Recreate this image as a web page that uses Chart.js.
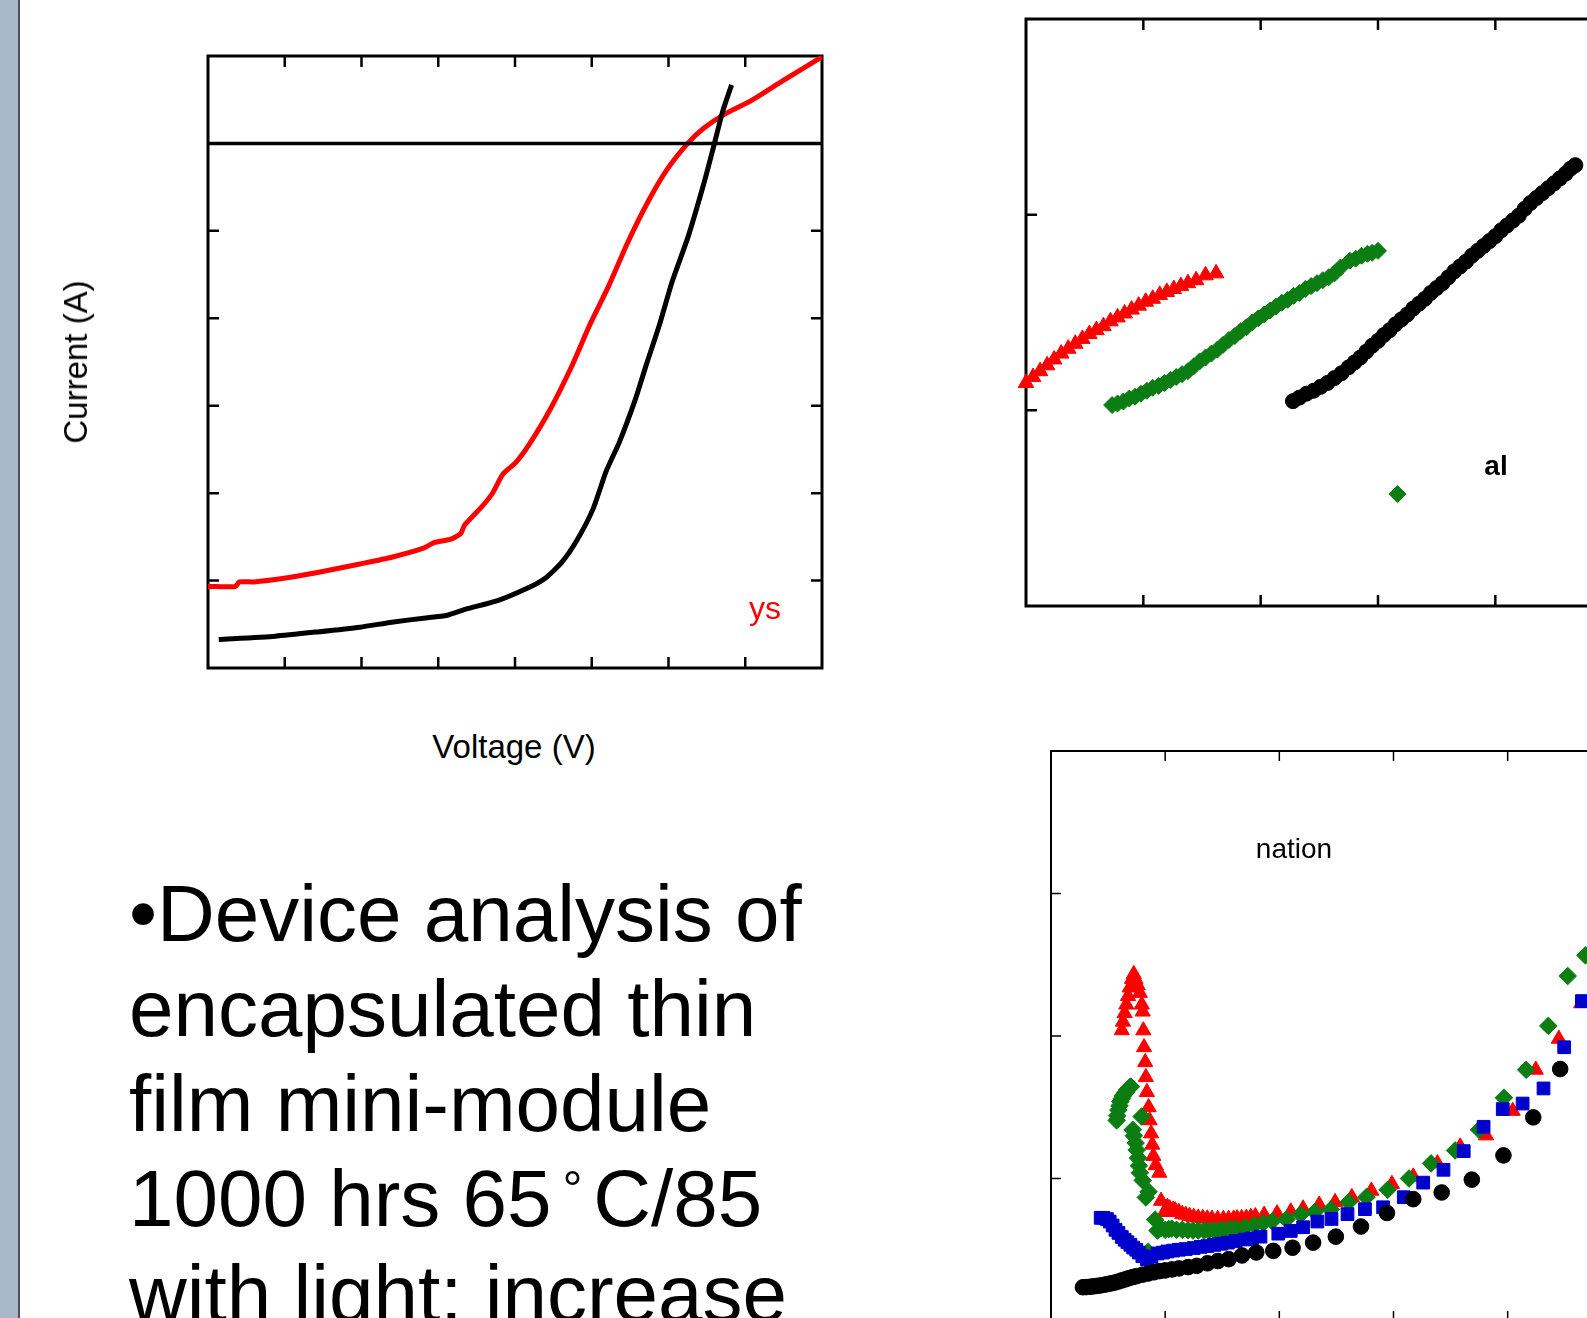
<!DOCTYPE html>
<html>
<head>
<meta charset="utf-8">
<script src="https://cdn.jsdelivr.net/npm/chart.js@4.4.1/dist/chart.umd.min.js"></script>
<style>
  html, body { margin: 0; padding: 0; background: #fff; }
  body { width: 1587px; height: 1318px; overflow: hidden; position: relative; font-family: "Liberation Sans", Arial, sans-serif; }
  .sidebar { position: absolute; left: 0; top: 0; width: 18px; height: 1318px; background: #a9b9ca; border-right: 2px solid #4b5058; }
  .box { position: absolute; }
  .lbl { position: absolute; white-space: nowrap; color: #000; }
  .bullet { position: absolute; left: 129px; top: 866px; font-size: 80px; line-height: 95px; white-space: nowrap; }
  .deg { font-size: 50px; line-height: 0; vertical-align: 20px; word-spacing: -3px; }
</style>
</head>
<body>
<div class="sidebar"></div>

<div class="box" style="left:0;top:0;width:900px;height:720px;"><canvas id="ivChart" width="900" height="720"></canvas></div>
<div class="box" style="left:950px;top:0;width:850px;height:660px;"><canvas id="trendChart" width="850" height="660"></canvas></div>
<div class="box" style="left:1000px;top:700px;width:800px;height:700px;"><canvas id="degChart" width="800" height="700"></canvas></div>

<div class="lbl" style="left:76px;top:362px;font-size:33px;transform:translate(-50%,-50%) rotate(-90deg);">Current (A)</div>
<div class="lbl" style="left:514px;top:747px;font-size:33px;transform:translate(-50%,-50%);">Voltage (V)</div>
<div class="lbl" style="left:765px;top:608px;font-size:32px;color:#ff0000;transform:translate(-50%,-50%);">ys</div>
<div class="lbl" style="left:1496px;top:466px;font-size:28px;font-weight:bold;transform:translate(-50%,-50%);">al</div>
<div class="lbl" style="left:1294px;top:849px;font-size:28px;transform:translate(-50%,-50%);">nation</div>

<div class="bullet">•Device analysis of<br>encapsulated thin<br>film mini-module<br>1000 hrs 65<span class="deg"> ° </span>C/85<br>with light: increase</div>

<script>
// chart 1: I-V curves (dark = black, light = red)
const darkV = [0.14, 0.876, 1.429, 1.98, 2.394, 2.808, 3.118, 3.36, 3.773, 4.187, 4.394, 4.6, 4.807, 5.016, 5.188, 5.36, 5.567, 5.705, 5.877, 6.05, 6.256, 6.462, 6.6, 6.705, 6.822];
const darkI = [-5.674, -5.636, -5.587, -5.533, -5.476, -5.43, -5.396, -5.327, -5.229, -5.076, -4.973, -4.801, -4.538, -4.183, -3.749, -3.416, -2.931, -2.547, -2.089, -1.574, -1.066, -0.453, 0.005, 0.364, 0.67];
const lightV = [0, 0.358, 0.407, 0.6, 0.945, 1.429, 1.98, 2.394, 2.808, 2.946, 3.152, 3.291, 3.346, 3.566, 3.704, 3.842, 4.015, 4.187, 4.463, 4.739, 4.98, 5.221, 5.463, 5.738, 5.98, 6.256, 6.462, 6.738, 7.083, 7.497, 8.0];
const lightI = [-5.067, -5.067, -5.015, -5.015, -4.98, -4.908, -4.81, -4.733, -4.63, -4.566, -4.53, -4.464, -4.362, -4.157, -4.004, -3.783, -3.645, -3.44, -3.034, -2.548, -2.064, -1.629, -1.144, -0.659, -0.3, 0.006, 0.176, 0.339, 0.492, 0.721, 0.99];
const zeroV = [0, 8];
const zeroI = [0, 0];

// chart 2: three scatter groups
const triX = [0.00, 0.06, 0.12, 0.18, 0.24, 0.30, 0.36, 0.42, 0.48, 0.54, 0.60, 0.66, 0.72, 0.78, 0.84, 0.90, 0.96, 1.02, 1.08, 1.14, 1.20, 1.26, 1.32, 1.38, 1.45, 1.53, 1.62];
const triY = [1.14, 1.17, 1.20, 1.23, 1.26, 1.29, 1.315, 1.34, 1.365, 1.39, 1.41, 1.43, 1.455, 1.475, 1.495, 1.515, 1.535, 1.555, 1.57, 1.59, 1.605, 1.62, 1.635, 1.65, 1.665, 1.69, 1.70];
const dmdX = [0.734, 0.78, 0.83, 0.88, 0.93, 0.98, 1.03, 1.08, 1.13, 1.18, 1.23, 1.28, 1.33, 1.38, 1.43, 1.48, 1.53, 1.58, 1.63, 1.68, 1.73, 1.78, 1.83, 1.88, 1.93, 1.98, 2.03, 2.08, 2.13, 2.18, 2.23, 2.28, 2.33, 2.38, 2.43, 2.48, 2.53, 2.58, 2.63, 2.68, 2.76, 2.81, 2.86, 2.91, 2.95, 3.0, 3.166];
const dmdY = [1.027, 1.035, 1.045, 1.06, 1.07, 1.085, 1.10, 1.115, 1.125, 1.14, 1.155, 1.17, 1.185, 1.20, 1.225, 1.25, 1.27, 1.29, 1.31, 1.335, 1.36, 1.38, 1.405, 1.425, 1.45, 1.47, 1.49, 1.51, 1.53, 1.55, 1.565, 1.585, 1.60, 1.62, 1.635, 1.65, 1.665, 1.68, 1.70, 1.73, 1.765, 1.775, 1.79, 1.80, 1.805, 1.815, 0.572];
const cirX = [2.275, 2.33, 2.39, 2.45, 2.51, 2.57, 2.63, 2.69, 2.75, 2.80, 2.85, 2.90, 2.95, 3.00, 3.05, 3.10, 3.15, 3.20, 3.25, 3.30, 3.35, 3.40, 3.45, 3.50, 3.55, 3.60, 3.65, 3.70, 3.75, 3.80, 3.85, 3.90, 3.95, 4.00, 4.05, 4.10, 4.15, 4.20, 4.25, 4.30, 4.35, 4.40, 4.45, 4.50, 4.55, 4.60, 4.64, 4.682];
const cirY = [1.047, 1.065, 1.085, 1.10, 1.12, 1.14, 1.165, 1.19, 1.22, 1.245, 1.27, 1.30, 1.33, 1.355, 1.385, 1.41, 1.44, 1.465, 1.49, 1.52, 1.545, 1.57, 1.60, 1.625, 1.65, 1.68, 1.71, 1.735, 1.76, 1.79, 1.815, 1.84, 1.865, 1.89, 1.92, 1.945, 1.97, 1.995, 2.03, 2.06, 2.085, 2.11, 2.135, 2.16, 2.185, 2.21, 2.235, 2.253];

// chart 3: four scatter groups
const blackX = [0.28, 0.31, 0.34, 0.37, 0.40, 0.435, 0.47, 0.50, 0.53, 0.56, 0.59, 0.62, 0.65, 0.68, 0.716, 0.75, 0.80, 0.85, 0.902, 0.95, 1.0, 1.06, 1.12, 1.2, 1.276, 1.37, 1.462, 1.556, 1.673, 1.798, 1.947, 2.116, 2.296, 2.495, 2.715, 2.943, 3.173, 3.422, 3.686, 3.963, 4.224, 4.46];
const blackY = [0.237, 0.238, 0.24, 0.243, 0.246, 0.25, 0.255, 0.26, 0.265, 0.27, 0.277, 0.285, 0.292, 0.30, 0.308, 0.315, 0.325, 0.333, 0.342, 0.35, 0.355, 0.362, 0.369, 0.378, 0.387, 0.405, 0.421, 0.434, 0.46, 0.481, 0.492, 0.514, 0.55, 0.592, 0.663, 0.758, 0.855, 0.902, 0.992, 1.162, 1.429, 1.768];
const blueX = [0.435, 0.46, 0.49, 0.514, 0.54, 0.565, 0.591, 0.62, 0.645, 0.669, 0.695, 0.72, 0.747, 0.77, 0.80, 0.84, 0.88, 0.933, 0.98, 1.02, 1.07, 1.12, 1.18, 1.25, 1.31, 1.369, 1.43, 1.49, 1.55, 1.617, 1.70, 1.76, 1.835, 1.991, 2.1, 2.208, 2.333, 2.457, 2.597, 2.75, 2.909, 3.09, 3.26, 3.438, 3.615, 3.789, 3.957, 4.131, 4.314, 4.495, 4.65];
const blueY = [0.724, 0.724, 0.715, 0.698, 0.67, 0.64, 0.618, 0.59, 0.57, 0.553, 0.535, 0.515, 0.5, 0.48, 0.455, 0.434, 0.45, 0.474, 0.48, 0.488, 0.494, 0.5, 0.505, 0.512, 0.52, 0.526, 0.534, 0.542, 0.55, 0.561, 0.572, 0.58, 0.592, 0.613, 0.632, 0.658, 0.698, 0.716, 0.75, 0.785, 0.798, 0.869, 0.971, 1.061, 1.192, 1.363, 1.487, 1.526, 1.632, 1.921, 2.245];
const redX = [0.62, 0.63, 0.645, 0.66, 0.675, 0.69, 0.71, 0.725, 0.74, 0.76, 0.778, 0.795, 0.803, 0.809, 0.815, 0.825, 0.831, 0.84, 0.855, 0.864, 0.877, 0.887, 0.896, 0.918, 0.949, 0.964, 0.995, 1.02, 1.04, 1.07, 1.088, 1.12, 1.15, 1.18, 1.213, 1.25, 1.29, 1.33, 1.369, 1.41, 1.46, 1.51, 1.556, 1.60, 1.63, 1.67, 1.711, 1.75, 1.79, 1.867, 1.98, 2.1, 2.208, 2.349, 2.488, 2.635, 2.806, 2.986, 3.173, 3.385, 3.584, 3.811, 4.044, 4.246, 4.448, 4.644];
const redY = [2.04, 2.10, 2.16, 2.22, 2.28, 2.34, 2.40, 2.434, 2.40, 2.355, 2.302, 2.22, 2.171, 2.039, 1.921, 1.816, 1.711, 1.606, 1.5, 1.408, 1.316, 1.237, 1.158, 1.093, 1.04, 0.843, 0.764, 0.80, 0.79, 0.78, 0.776, 0.765, 0.75, 0.745, 0.737, 0.73, 0.725, 0.722, 0.719, 0.717, 0.716, 0.716, 0.716, 0.718, 0.72, 0.722, 0.724, 0.73, 0.735, 0.745, 0.755, 0.768, 0.789, 0.816, 0.834, 0.869, 0.914, 0.961, 1.013, 1.106, 1.224, 1.302, 1.474, 1.763, 1.98, 2.229];
const greenX = [0.575, 0.58, 0.59, 0.60, 0.607, 0.62, 0.63, 0.64, 0.653, 0.665, 0.68, 0.69, 0.7, 0.794, 0.716, 0.725, 0.741, 0.75, 0.762, 0.77, 0.778, 0.803, 0.831, 0.855, 0.851, 0.913, 0.933, 0.96, 1.0, 1.03, 1.058, 1.1, 1.15, 1.2, 1.244, 1.29, 1.34, 1.38, 1.431, 1.48, 1.52, 1.57, 1.617, 1.70, 1.782, 1.86, 1.938, 2.062, 2.187, 2.311, 2.451, 2.606, 2.762, 2.949, 3.136, 3.329, 3.54, 3.749, 3.967, 4.162, 4.356, 4.526, 4.681];
const greenY = [1.408, 1.44, 1.48, 1.51, 1.54, 1.56, 1.58, 1.59, 1.604, 1.62, 1.63, 1.64, 1.645, 1.435, 1.342, 1.30, 1.249, 1.20, 1.144, 1.09, 1.04, 0.987, 0.867, 0.907, 0.486, 0.711, 0.635, 0.65, 0.64, 0.645, 0.648, 0.64, 0.64, 0.637, 0.635, 0.635, 0.635, 0.635, 0.635, 0.637, 0.64, 0.645, 0.648, 0.66, 0.674, 0.688, 0.7, 0.713, 0.747, 0.766, 0.782, 0.834, 0.869, 0.921, 1.0, 1.106, 1.197, 1.342, 1.567, 1.763, 2.071, 2.421, 2.566];

const pts = (xs, ys) => xs.map((x, i) => ({ x: x, y: ys[i] }));

// frame box plus inward tick marks on all four sides
const frameTicks = {
    id: 'frameTicks',
    beforeDatasetsDraw(chart, args, opts) {
        const ctx = chart.ctx;
        const a = chart.chartArea;
        const x = chart.scales.x;
        const y = chart.scales.y;
        ctx.save();
        ctx.strokeStyle = '#000';
        ctx.lineWidth = opts.tickWidth;
        x.ticks.forEach(t => {
            const px = x.getPixelForValue(t.value);
            if (px <= a.left + 2 || px >= a.right - 2) return;
            ctx.beginPath();
            ctx.moveTo(px, a.bottom); ctx.lineTo(px, a.bottom - opts.len);
            ctx.moveTo(px, a.top); ctx.lineTo(px, a.top + opts.len);
            ctx.stroke();
        });
        y.ticks.forEach(t => {
            const py = y.getPixelForValue(t.value);
            if (py <= a.top + 2 || py >= a.bottom - 2) return;
            ctx.beginPath();
            ctx.moveTo(a.left, py); ctx.lineTo(a.left + opts.len, py);
            ctx.moveTo(a.right, py); ctx.lineTo(a.right - opts.len, py);
            ctx.stroke();
        });
        ctx.lineWidth = opts.frame;
        ctx.strokeRect(a.left, a.top, a.right - a.left, a.bottom - a.top);
        ctx.restore();
    }
};

function hiddenAxis(min, max) {
    return {
        type: 'linear', min: min, max: max,
        ticks: { display: false, stepSize: 1 },
        grid: { display: false, drawTicks: false },
        border: { display: false },
        title: { display: false }
    };
}

function baseOptions(xmin, xmax, ymin, ymax, padding, frame) {
    return {
        responsive: false,
        animation: false,
        layout: { padding: padding },
        plugins: { legend: { display: false }, tooltip: { enabled: false }, frameTicks: frame },
        scales: { x: hiddenAxis(xmin, xmax), y: hiddenAxis(ymin, ymax) }
    };
}

function markers(data, color, style, radius) {
    return {
        data: data, showLine: false, pointStyle: style, pointRadius: radius,
        backgroundColor: color, borderColor: color, pointBorderWidth: 1, clip: false
    };
}

new Chart(document.getElementById('ivChart'), {
    type: 'scatter',
    data: {
        datasets: [
            { data: pts(zeroV, zeroI), showLine: true, borderColor: '#000', borderWidth: 3.5, pointRadius: 0 },
            { data: pts(darkV, darkI), showLine: true, borderColor: '#000', borderWidth: 5, pointRadius: 0, tension: 0.2 },
            { data: pts(lightV, lightI), showLine: true, borderColor: '#ff0000', borderWidth: 5, pointRadius: 0, tension: 0.2 }
        ]
    },
    options: baseOptions(0, 8, -6, 1, { left: 208, top: 56, right: 78, bottom: 52 }, { len: 11, tickWidth: 2.5, frame: 3 }),
    plugins: [frameTicks]
});

new Chart(document.getElementById('trendChart'), {
    type: 'scatter',
    data: {
        datasets: [
            markers(pts(triX, triY), '#ff0000', 'triangle', 9),
            markers(pts(dmdX, dmdY), '#0b7d12', 'rectRot', 8.5),
            markers(pts(cirX, cirY), '#000', 'circle', 7.5)
        ]
    },
    options: baseOptions(0, 6, 0, 3, { left: 76, top: 19, right: 70, bottom: 54 }, { len: 11, tickWidth: 2.5, frame: 3 }),
    plugins: [frameTicks]
});

new Chart(document.getElementById('degChart'), {
    type: 'scatter',
    data: {
        datasets: [
            markers(pts(blackX, blackY), '#000', 'circle', 7.8),
            markers(pts(blueX, blueY), '#0000cc', 'rect', 9),
            markers(pts(greenX, greenY), '#0b7d12', 'rectRot', 8.8),
            markers(pts(redX, redY), '#ff0000', 'triangle', 8.8)
        ]
    },
    options: baseOptions(0, 6, 0, 4, { left: 51, top: 51, right: 64, bottom: 79 }, { len: 10, tickWidth: 1.5, frame: 2 }),
    plugins: [frameTicks]
});
</script>
</body>
</html>
